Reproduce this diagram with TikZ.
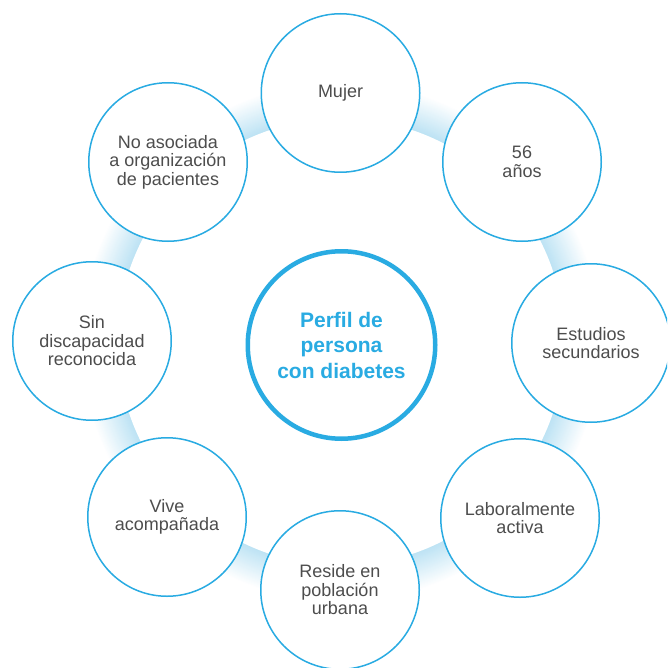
\documentclass[tikz,border=0pt]{standalone}
\usepackage{fontspec}
\setmainfont{Liberation Sans}
\definecolor{ringblue}{HTML}{29ABE2}
\definecolor{bandblue}{HTML}{BDE3F4}
\definecolor{labelgray}{HTML}{4D4D4D}
\begin{document}
\begin{tikzpicture}[x=1pt,y=-1pt,
  hub/.style={circle, draw=ringblue, line width=4.5pt, fill=white, minimum size=187.5pt,
    inner sep=0pt, align=center, font=\fontsize{21}{25.5}\selectfont\bfseries, text=ringblue},
  trait/.style={circle, draw=ringblue, line width=1.5pt, fill=white, minimum size=158.5pt,
    inner sep=0pt, align=center, font=\fontsize{18}{18.5}\selectfont, text=labelgray}]
\useasboundingbox (0,0) rectangle (667,668);
\clip (0,0) rectangle (667,668);

% ring of soft links behind the circles: pale blue on its inner edge, fading outwards
\coordinate (mid) at (341,342);
\foreach \k in {36,35,...,0}{
  \pgfmathsetmacro{\shadeval}{100*(1-\k/36)}
  \fill[bandblue!\shadeval!white] (mid) circle[radius=224+\k];
}
\fill[white] (mid) circle[radius=223.5];

% profile traits
\node[trait] (mujer)   at (340.5,93)  {Mujer};
\node[trait] (edad)    at (522,162)   {56\\años};
\node[trait] (estud)   at (591,343)   {Estudios\\secundarios};
\node[trait] (laboral) at (520,518)   {Laboralmente\\activa};
\node[trait] (reside)  at (340,590)   {Reside en\\población\\urbana};
\node[trait] (vive)    at (167,517)   {Vive\\acompañada};
\node[trait] (discap)  at (92,341)    {Sin\\discapacidad\\reconocida};
\node[trait] (asoc)    at (168,162)   {No asociada\\a organización\\de pacientes};

% central topic
\node[hub] (perfil) at (341.5,345) {Perfil de\\persona\\con diabetes};
\end{tikzpicture}
\end{document}
